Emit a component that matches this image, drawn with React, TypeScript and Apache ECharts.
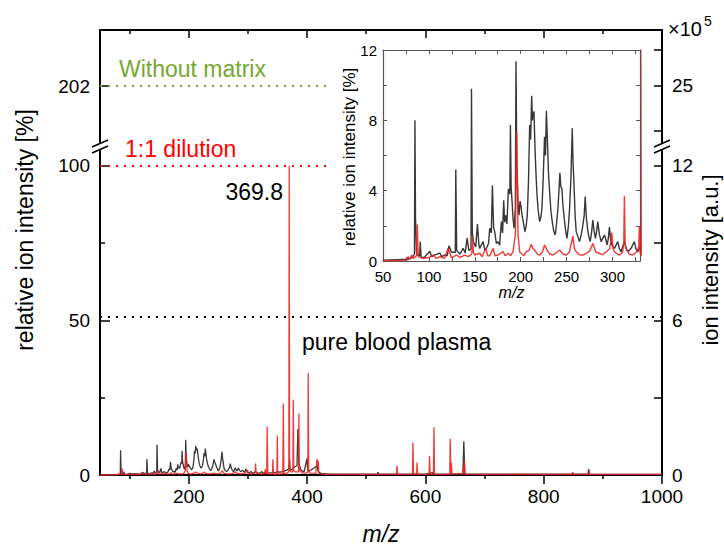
import React, { useEffect, useRef } from "react";
import * as echarts from "echarts";

// ---------- data ----------
// pure blood plasma spectrum: [m/z, relative intensity %]
const plasmaSpectrum: [number, number][] = [
  [50, 0.05], [78, 0.1], [82, 0.2], [84.3, 0.4], [84.8, 8.0], [85.4, 2.5], [86.5, 0.5], [87.3, 0.35],
  [90.0, 0.3], [90.6, 1.1], [91.5, 0.2], [95, 0.2], [101, 0.55], [103, 0.25], [106.5, 0.35], [112, 0.45],
  [114, 0.25], [117.4, 0.35], [120, 0.3], [122, 0.87], [124.6, 0.5], [128.8, 0.5], [129.3, 5.2], [130.3, 0.6],
  [134, 0.4], [137.3, 0.72], [139.5, 0.45], [141.7, 1.3], [143.5, 0.6], [145.9, 0.7], [146.4, 9.8], [147.3, 1.6],
  [148.5, 1.1], [151, 0.8], [152.9, 2.1], [154.5, 0.9], [155.4, 0.72], [157, 0.9], [159, 1.1], [161, 0.6],
  [162.7, 0.72], [165, 1.0], [166.3, 1.86], [168, 1.6], [169.2, 4.3], [170.5, 1.9], [171.7, 1.67], [173.5, 1.0],
  [175.4, 1.1], [177, 0.9], [179, 2.24], [180.3, 1.6], [181.5, 3.45], [182.5, 2.2], [183.7, 2.6], [185, 2.1],
  [186.6, 4.1], [188.2, 3.8], [188.8, 7.74], [189.6, 4.2], [190.6, 3.4], [191.7, 2.4], [192.8, 1.86], [194.2, 3.0],
  [194.9, 11.36], [195.7, 6.0], [196.4, 4.7], [197.2, 3.2], [198.2, 2.6], [199.3, 3.4], [200.4, 3.1], [201.5, 2.6],
  [202.5, 2.33], [203.6, 2.0], [204.7, 1.67], [206, 2.0], [207.2, 2.6], [208.5, 4.5], [209.8, 7.74], [210.8, 6.9],
  [212, 9.4], [212.8, 8.0], [213.4, 8.3], [214.5, 8.5], [215.3, 7.0], [216, 5.84], [217, 4.6], [217.8, 3.75],
  [219, 2.9], [220.7, 2.24], [222, 2.5], [223.2, 3.0], [224.6, 4.8], [226, 7.07], [227, 6.0], [228, 8.55],
  [229.3, 6.6], [230.3, 5.0], [231.5, 3.94], [233, 2.8], [234.4, 2.24], [236, 1.7], [237.7, 1.48], [239.2, 2.2],
  [240.6, 3.0], [241.7, 4.0], [242.7, 5.02], [243.8, 4.2], [244.9, 4.13], [246, 3.2], [247.1, 2.6], [248.8, 1.8],
  [250.4, 1.29], [252, 2.0], [253.3, 3.0], [254.8, 4.8], [256.2, 7.55], [257.1, 5.5], [258, 4.5], [259.3, 2.6],
  [260.5, 1.67], [262.3, 1.4], [264.1, 1.1], [266, 1.5], [267.8, 2.05], [269.2, 2.6], [270.3, 3.66], [271.5, 2.5],
  [272.8, 1.86], [274.2, 1.4], [275.7, 1.1], [277.2, 1.6], [278.6, 2.33], [280, 1.7], [281.5, 1.29], [283, 1.8],
  [284, 2.24], [285.8, 1.5], [287.7, 1.1], [289.5, 1.3], [291.3, 1.48], [292.8, 1.2], [294.2, 0.91], [295.5, 1.3],
  [296.7, 1.93], [298, 1.2], [299.3, 0.91], [302.2, 0.72], [305.8, 1.1], [307.5, 0.7], [309.4, 0.53], [311, 0.8],
  [313, 1.1], [315, 0.7], [316.7, 0.53], [320.3, 0.72], [322, 0.9], [323.9, 1.1], [325.5, 0.7], [327.5, 0.53],
  [330, 0.8], [335, 0.6], [340, 0.7], [345, 0.8], [350, 1.0], [355, 0.9], [360, 1.2], [365, 1.5],
  [369.5, 2.0], [370.3, 5.0], [371.5, 1.5], [375, 1.8], [378, 2.5], [383, 3.0], [384.5, 14.9], [386, 4.0],
  [390, 1.5], [395, 1.0], [400, 5.4], [401, 1.5], [403.5, 1.2], [417, 3.0], [419, 1.0], [425, 0.4],
  [440, 0.3], [470, 0.3], [500, 0.3], [519, 0.3], [520, 0.9], [521, 0.3], [560, 0.3], [600, 0.3],
  [612, 0.8], [613, 0.3], [640, 0.3], [663.5, 0.4], [665, 10.9], [666.5, 1.0], [668, 0.3], [700, 0.3],
  [750, 0.3], [800, 0.3], [848, 0.3], [849, 0.85], [850, 0.3], [875, 0.3], [876, 1.9], [877.5, 0.3],
  [920, 0.2], [1000, 0.2],
];

// 1:1 dilution spectrum: [m/z, relative intensity %]
const dilutionSpectrum: [number, number][] = [
  [50, 0.0], [76, 0.05], [77.5, 0.25], [79, 0.1], [81.2, 0.34], [83, 0.15], [86.5, 0.3], [87.3, 2.09],
  [88.4, 0.25], [93.8, 0.15], [100, 0.2], [104.7, 0.34], [108, 0.15], [112, 0.25], [117, 0.15], [121, 0.72],
  [124.6, 0.19], [130, 0.34], [134, 0.2], [139, 0.34], [143, 0.25], [146.8, 0.4], [147.5, 1.42], [148.5, 0.5],
  [150, 0.34], [155.4, 0.44], [158, 0.25], [162, 0.72], [164, 0.3], [166.3, 0.3], [170, 0.72], [172, 0.3],
  [175.4, 0.34], [180.8, 0.53], [183, 0.3], [186.2, 0.44], [189, 0.3], [191.7, 0.53], [194.2, 1.48], [195.6, 7.36],
  [197.1, 1.48], [199, 0.5], [200.7, 0.44], [203.5, 0.3], [206.2, 0.53], [209, 0.6], [211.6, 0.95], [213.5, 0.7],
  [215.2, 0.63], [218, 0.4], [220.7, 0.34], [223.5, 0.5], [226, 0.91], [228.6, 0.63], [231.5, 0.4], [235.1, 0.34],
  [238.5, 0.45], [242.4, 0.63], [246, 0.4], [249.6, 0.34], [253, 0.5], [256.9, 1.42], [258.5, 0.7], [260.5, 0.53],
  [264, 0.35], [267.8, 0.34], [272, 0.45], [275.5, 0.6], [278.6, 1.0], [282, 0.5], [285.9, 0.44], [289.5, 0.35],
  [293.1, 0.53], [297, 0.7], [299.3, 1.61], [300.6, 0.7], [302.2, 0.53], [305, 0.4], [307.6, 0.34], [311, 0.5],
  [312.3, 1.0], [313, 3.7], [313.8, 1.0], [314.9, 0.72], [318, 0.4], [322, 0.34], [326, 0.5], [328.6, 0.8],
  [329.3, 1.95], [330, 0.5], [331.8, 0.3], [332.6, 15.6], [333.6, 0.4], [338, 0.3], [341.5, 0.3], [342.3, 5.1],
  [343.2, 0.3], [349, 0.3], [349.7, 12.8], [350.5, 0.3], [359, 0.4], [359.9, 23.0], [360.8, 0.4], [365, 0.6],
  [369.2, 1.0], [369.8, 100], [370.5, 2.0], [373, 1.0], [376, 1.0], [376.7, 24.3], [377.5, 1.5], [380, 1.0],
  [385.5, 1.0], [386.2, 19.8], [387, 1.5], [392, 0.6], [398, 0.6], [401.3, 1.0], [402, 33.0], [402.8, 1.5],
  [405, 0.6], [415, 0.5], [416.5, 4.8], [417.2, 5.1], [418, 3.0], [419, 4.5], [420, 0.5], [430, 0.2],
  [480, 0.2], [540, 0.2], [551.2, 0.2], [552, 3.1], [552.8, 0.2], [578.2, 0.2], [579, 10.4], [580, 0.3],
  [585.3, 0.3], [586, 4.0], [586.8, 0.3], [598, 0.2], [606.3, 0.2], [607, 6.1], [608, 0.3], [613.7, 0.3],
  [614.5, 15.4], [615.4, 0.3], [625, 0.2], [641.2, 0.2], [642, 11.7], [643, 0.5], [644, 4.0], [645, 0.3],
  [663, 0.4], [664, 2.5], [665, 0.5], [666, 4.6], [667, 0.3], [700, 0.2], [747.5, 0.2], [748, 0.5],
  [748.5, 0.2], [800, 0.2], [848.5, 0.2], [849, 0.7], [849.5, 0.2], [875.5, 0.2], [876, 1.2], [876.5, 0.2],
  [950, 0.2], [1000, 0.2],
];

// axes and ticks
const mainXMin = 50;
const mainXMax = 1000;
const mainXMajor = [200, 400, 600, 800, 1000];
const mainXMinor = [100, 300, 500, 700, 900];
const leftMax = 105.06;
const leftMajor = [0, 50, 100];
const leftMinor = [25, 75];
const rightMax = 12.607;
const rightTicks = [0, 3, 6, 9, 12];
const rightLabels = [0, 6, 12];
const upperLeftMin = 186;
const upperLeftMax = 216;
const upperLeftTicks = [202];
const upperRightMin = 21.444;
const upperRightMax = 28.111;
const upperRightTicks = [22.5, 25, 27];
const upperRightLabels = [25];
const insetXMin = 50;
const insetXMax = 330;
const insetXLabels = [50, 100, 150, 200, 250, 300];
const insetXTicks = [50, 75, 100, 125, 150, 175, 200, 225, 250, 275, 300, 325];
const insetYMax = 12;
const insetYTicks = [0, 2, 4, 6, 8, 10, 12];
const insetYLabels = [0, 4, 8, 12];

// reference levels
const withoutMatrixLevel = 202;
const dilutionLevel = 100;
const plasmaLevel = 51;
const levelLineEnd = 440;
const basePeakLabel = "369.8";

const FONT = '"Liberation Sans", Arial, Helvetica, sans-serif';
const BLACK_TRACE = "#383838";
const RED_TRACE = "#ef2424";
const GREEN = "#76a730";
const INSET_AXIS = "#555";

const plain = (v: number) => String(v);

function App() {
  const ref = useRef<HTMLDivElement>(null);

  useEffect(() => {
    if (!ref.current) return;
    const chart = echarts.init(ref.current, undefined, { renderer: "svg" });

    const axisBlack = { show: true, onZero: false, lineStyle: { color: "#000", width: 2 } };
    const insetLine = { show: true, onZero: false, lineStyle: { color: INSET_AXIS, width: 1.2 } };
    const noLabel = { show: false };
    const noSplit = { show: false };
    const tickLabel = (values: number[], size: number, margin: number) => ({
      customValues: values, fontSize: size, margin, color: "#000", fontFamily: FONT, formatter: plain,
    });

    const txt = (text: string, x: number, y: number, size: number, fill: string, align = "left", extra: any = {}) => ({
      type: "text",
      x,
      y,
      z: 100,
      ...extra,
      style: {
        text,
        fontSize: size,
        fontFamily: FONT,
        fill,
        textAlign: align,
        align,
        textVerticalAlign: "middle",
        verticalAlign: "middle",
      },
    });

    const breakMark = (cx: number) => [
      { type: "rect", z: 100, shape: { x: cx - 4, y: 144, width: 8, height: 5 }, style: { fill: "#fff" } },
      { type: "line", z: 101, shape: { x1: cx - 8, y1: 147, x2: cx + 8, y2: 140 }, style: { stroke: "#000", lineWidth: 1.5 } },
      { type: "line", z: 101, shape: { x1: cx - 8, y1: 153, x2: cx + 8, y2: 146 }, style: { stroke: "#000", lineWidth: 1.5 } },
    ];

    const option: any = {
      animation: false,
      backgroundColor: "#fff",
      textStyle: { fontFamily: FONT },
      grid: [
        { left: 100, right: 62, top: 150, bottom: 68 },
        { left: 100, right: 62, top: 30, height: 120 },
        { left: 383, top: 50, width: 257, height: 211 },
      ],
      xAxis: [
        {
          type: "value", gridIndex: 0, min: mainXMin, max: mainXMax, position: "bottom",
          axisLine: axisBlack,
          axisTick: { customValues: mainXMajor, length: 9, inside: false, lineStyle: { color: "#000", width: 1.5 } },
          axisLabel: tickLabel(mainXMajor, 19, 12),
          splitLine: noSplit,
          name: "m/z", nameLocation: "middle", nameGap: 47,
          nameTextStyle: { fontStyle: "italic", fontSize: 23, color: "#000", fontFamily: FONT },
        },
        {
          type: "value", gridIndex: 0, min: mainXMin, max: mainXMax, position: "bottom",
          axisLine: { show: false, onZero: false },
          axisTick: { customValues: mainXMinor, length: 4, inside: false, lineStyle: { color: "#000", width: 1.5 } },
          axisLabel: noLabel, splitLine: noSplit,
        },
        {
          type: "value", gridIndex: 1, min: mainXMin, max: mainXMax, position: "top",
          axisLine: axisBlack,
          axisTick: { customValues: mainXMajor, length: 8, inside: true, lineStyle: { color: "#000", width: 1.5 } },
          axisLabel: noLabel, splitLine: noSplit,
        },
        {
          type: "value", gridIndex: 1, min: mainXMin, max: mainXMax, position: "top",
          axisLine: { show: false, onZero: false },
          axisTick: { customValues: mainXMinor, length: 4, inside: true, lineStyle: { color: "#000", width: 1.5 } },
          axisLabel: noLabel, splitLine: noSplit,
        },
        {
          type: "value", gridIndex: 2, min: insetXMin, max: insetXMax, position: "bottom",
          axisLine: insetLine,
          axisTick: { customValues: insetXTicks, length: 4, inside: true, lineStyle: { color: INSET_AXIS } },
          axisLabel: tickLabel(insetXLabels, 15, 8),
          splitLine: noSplit,
          name: "m/z", nameLocation: "middle", nameGap: 22,
          nameTextStyle: { fontStyle: "italic", fontSize: 16, color: "#000", fontFamily: FONT },
        },
        {
          type: "value", gridIndex: 2, min: insetXMin, max: insetXMax, position: "top",
          axisLine: insetLine,
          axisTick: { customValues: insetXTicks, length: 4, inside: true, lineStyle: { color: INSET_AXIS } },
          axisLabel: noLabel, splitLine: noSplit,
        },
      ],
      yAxis: [
        {
          type: "value", gridIndex: 0, min: 0, max: leftMax, position: "left",
          axisLine: axisBlack,
          axisTick: { customValues: leftMajor, length: 10, inside: true, lineStyle: { color: "#000", width: 1.5 } },
          axisLabel: tickLabel(leftMajor, 19, 10),
          splitLine: noSplit,
        },
        {
          type: "value", gridIndex: 0, min: 0, max: leftMax, position: "left",
          axisLine: { show: false },
          axisTick: { customValues: leftMinor, length: 5, inside: true, lineStyle: { color: "#000", width: 1.5 } },
          axisLabel: noLabel, splitLine: noSplit,
        },
        {
          type: "value", gridIndex: 0, min: 0, max: rightMax, position: "right",
          axisLine: axisBlack,
          axisTick: { customValues: rightTicks, length: 8, inside: true, lineStyle: { color: "#000", width: 1.5 } },
          axisLabel: tickLabel(rightLabels, 19, 10),
          splitLine: noSplit,
        },
        {
          type: "value", gridIndex: 1, min: upperLeftMin, max: upperLeftMax, position: "left",
          axisLine: axisBlack,
          axisTick: { customValues: upperLeftTicks, length: 8, inside: true, lineStyle: { color: "#000", width: 1.5 } },
          axisLabel: tickLabel(upperLeftTicks, 19, 10),
          splitLine: noSplit,
        },
        {
          type: "value", gridIndex: 1, min: upperRightMin, max: upperRightMax, position: "right",
          axisLine: axisBlack,
          axisTick: { customValues: upperRightTicks, length: 8, inside: true, lineStyle: { color: "#000", width: 1.5 } },
          axisLabel: tickLabel(upperRightLabels, 19, 10),
          splitLine: noSplit,
        },
        {
          type: "value", gridIndex: 2, min: 0, max: insetYMax, position: "left",
          axisLine: insetLine,
          axisTick: { customValues: insetYTicks, length: 4, inside: true, lineStyle: { color: INSET_AXIS } },
          axisLabel: tickLabel(insetYLabels, 15, 6),
          splitLine: noSplit,
        },
        {
          type: "value", gridIndex: 2, min: 0, max: insetYMax, position: "right",
          axisLine: insetLine,
          axisTick: { customValues: insetYTicks, length: 4, inside: true, lineStyle: { color: INSET_AXIS } },
          axisLabel: noLabel, splitLine: noSplit,
        },
      ],
      series: [
        {
          type: "line", name: "pure blood plasma", xAxisIndex: 0, yAxisIndex: 0,
          data: plasmaSpectrum, symbol: "none", showSymbol: false, clip: true, z: 2,
          lineStyle: { color: BLACK_TRACE, width: 1.3 }, itemStyle: { color: BLACK_TRACE },
          markLine: {
            silent: true, symbol: ["none", "none"], label: { show: false },
            lineStyle: { color: "#000", type: [2, 6], width: 2 },
            data: [[{ coord: [mainXMin, plasmaLevel] }, { coord: [mainXMax, plasmaLevel] }]],
          },
        },
        {
          type: "line", name: "1:1 dilution", xAxisIndex: 0, yAxisIndex: 0,
          data: dilutionSpectrum, symbol: "none", showSymbol: false, clip: true, z: 3,
          lineStyle: { color: RED_TRACE, width: 1.3, opacity: 0.9 }, itemStyle: { color: RED_TRACE },
          markLine: {
            silent: true, symbol: ["none", "none"], label: { show: false },
            lineStyle: { color: "#ff0000", type: [2, 6], width: 2 },
            data: [[{ coord: [mainXMin, dilutionLevel] }, { coord: [levelLineEnd, dilutionLevel] }]],
          },
        },
        {
          type: "line", name: "without matrix", xAxisIndex: 2, yAxisIndex: 3,
          data: [], symbol: "none",
          markLine: {
            silent: true, symbol: ["none", "none"], label: { show: false },
            lineStyle: { color: GREEN, type: [2, 6], width: 2 },
            data: [[{ coord: [mainXMin, withoutMatrixLevel] }, { coord: [levelLineEnd, withoutMatrixLevel] }]],
          },
        },
        {
          type: "line", name: "plasma inset", xAxisIndex: 4, yAxisIndex: 5,
          data: plasmaSpectrum, symbol: "none", showSymbol: false, clip: true, z: 2,
          lineStyle: { color: BLACK_TRACE, width: 1.4 },
        },
        {
          type: "line", name: "dilution inset", xAxisIndex: 4, yAxisIndex: 5,
          data: dilutionSpectrum, symbol: "none", showSymbol: false, clip: true, z: 3,
          lineStyle: { color: RED_TRACE, width: 1.4, opacity: 0.9 },
        },
      ],
      graphic: [
        txt("Without matrix", 119, 69, 23, GREEN),
        txt("1:1 dilution", 125, 149, 23, "#ff0000"),
        txt(basePeakLabel, 283, 192, 23, "#000", "right"),
        txt("pure blood plasma", 302, 342, 23, "#000"),
        txt("relative ion intensity [%]", 25, 230, 23, "#000", "center", { rotation: Math.PI / 2 }),
        txt("ion intensity [a.u.]", 710, 260, 22, "#000", "center", { rotation: Math.PI / 2 }),
        txt("relative ion intensity [%]", 349, 157, 17, "#000", "center", { rotation: Math.PI / 2 }),
        txt("×10", 668, 29, 20, "#000"),
        txt("5", 704, 21, 14, "#000"),
        ...breakMark(100),
        ...breakMark(662),
      ],
    };

    chart.setOption(option);
    return () => chart.dispose();
  }, []);

  return (
    <div
      ref={ref}
      style={{ position: "absolute", left: 0, top: 0, width: 724, height: 550, background: "#fff" }}
    />
  );
}

export default App;
